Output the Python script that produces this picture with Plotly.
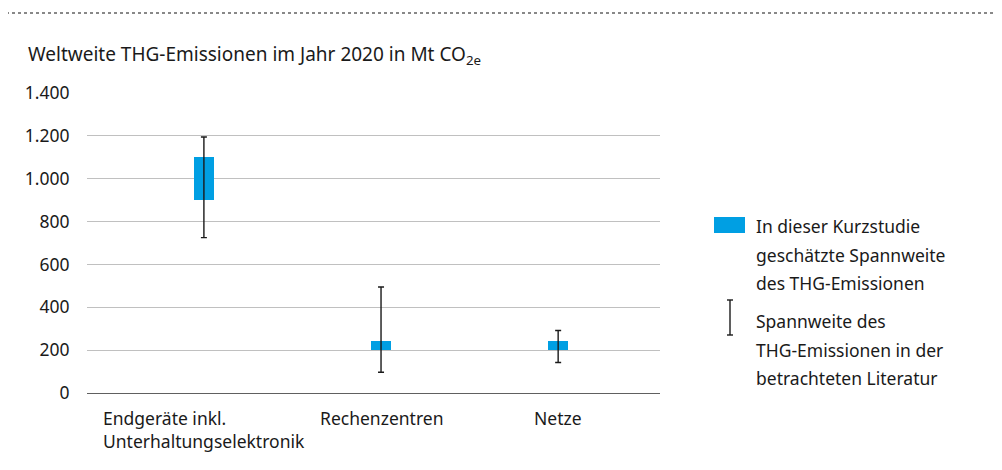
import plotly.graph_objects as go

categories = ["Endgeräte inkl.<br>Unterhaltungselektronik", "Rechenzentren", "Netze"]
study_low = [900, 200, 200]
study_high = [1100, 245, 245]
lit_low = [725, 97, 142]
lit_high = [1195, 495, 292]
y_ticks = [0, 200, 400, 600, 800, 1000, 1200, 1400]
y_tick_labels = ["0", "200", "400", "600", "800", "1.000", "1.200", "1.400"]

FONT = "Noto Sans"
TXT = "#1a1a1a"
BLUE = "#009fe3"
OFF = 8  # page offset
W, H = 1002 - OFF, 470 - OFF
L, T, R, B = 87 - OFF, 93 - OFF, 660 - OFF, 393 - OFF
PW, PH = R - L, B - T

fig = go.Figure()
fig.add_trace(go.Bar(
    x=categories, y=[h - l for h, l in zip(study_high, study_low)], base=study_low,
    width=0.11, marker=dict(color=BLUE, line=dict(width=0)), showlegend=False,
))
mid = [(h + l) / 2 for h, l in zip(lit_high, lit_low)]
half = [(h - l) / 2 for h, l in zip(lit_high, lit_low)]
fig.add_trace(go.Scatter(
    x=categories, y=mid, mode="markers", marker=dict(size=1, opacity=0),
    error_y=dict(type="data", array=half, symmetric=True, color="#1a1a1a", thickness=1.4, width=3),
    showlegend=False,
))

for c in categories:
    fig.add_annotation(x=c, y=0, xref="x", yref="y", yanchor="top", xanchor="center", align="left",
                       text=c, showarrow=False, yshift=-11,
                       font=dict(family=FONT, size=17.5, color=TXT))

fig.update_layout(
    width=W, height=H,
    margin=dict(l=L, r=W - R, t=T, b=H - B),
    paper_bgcolor="white", plot_bgcolor="white",
    bargap=0,
    font=dict(family=FONT, size=17.5, color=TXT),
    xaxis=dict(range=[-0.66, 2.575], showticklabels=False, showgrid=False, zeroline=False,
               showline=False, ticks=""),
    yaxis=dict(range=[0, 1400], tickvals=y_ticks, ticktext=y_tick_labels, showgrid=True,
               gridcolor="#c0c0c0", gridwidth=1, zeroline=True, zerolinecolor="#606060",
               zerolinewidth=1.2, showline=False, ticks="outside", ticklen=13, tickcolor="rgba(0,0,0,0)",
               tickfont=dict(family=FONT, size=17.5, color=TXT)),
)

def px_x(px):
    return (px - OFF - L) / PW
def px_y(py):
    return (B - (py - OFF)) / PH

# title
fig.add_annotation(x=px_x(26), y=px_y(55), xref="paper", yref="paper",
                   text="Weltweite THG-Emissionen im Jahr 2020 in Mt CO<sub>2e</sub>",
                   showarrow=False, xanchor="left", yanchor="middle",
                   font=dict(family=FONT, size=19, color=TXT))

# dotted top line
fig.add_shape(type="line", xref="paper", yref="paper", x0=px_x(0), x1=px_x(1002), y0=px_y(13), y1=px_y(13),
              line=dict(color="#888888", width=2, dash="dot"))

# legend: blue rectangle
fig.add_shape(type="rect", xref="paper", yref="paper", x0=px_x(714), x1=px_x(745), y0=px_y(233), y1=px_y(217),
              fillcolor=BLUE, line=dict(width=0))
# legend: I-beam
fig.add_shape(type="line", xref="paper", yref="paper", x0=px_x(730), x1=px_x(730), y0=px_y(300), y1=px_y(335),
              line=dict(color="#1a1a1a", width=1.4))
for yy in (300, 335):
    fig.add_shape(type="line", xref="paper", yref="paper", x0=px_x(727), x1=px_x(733), y0=px_y(yy), y1=px_y(yy),
                  line=dict(color="#1a1a1a", width=1.4))

legend1 = ["In dieser Kurzstudie", "geschätzte Spannweite", "des THG-Emissionen"]
legend2 = ["Spannweite des", "THG-Emissionen in der", "betrachteten Literatur"]
for i, t in enumerate(legend1):
    fig.add_annotation(x=px_x(754), y=px_y(226 + 28.5 * i), xref="paper", yref="paper", text=t, showarrow=False,
                       xanchor="left", yanchor="middle", font=dict(family=FONT, size=17.5, color=TXT))
for i, t in enumerate(legend2):
    fig.add_annotation(x=px_x(754), y=px_y(321 + 28.5 * i), xref="paper", yref="paper", text=t, showarrow=False,
                       xanchor="left", yanchor="middle", font=dict(family=FONT, size=17.5, color=TXT))

fig.write_html("out.html")
